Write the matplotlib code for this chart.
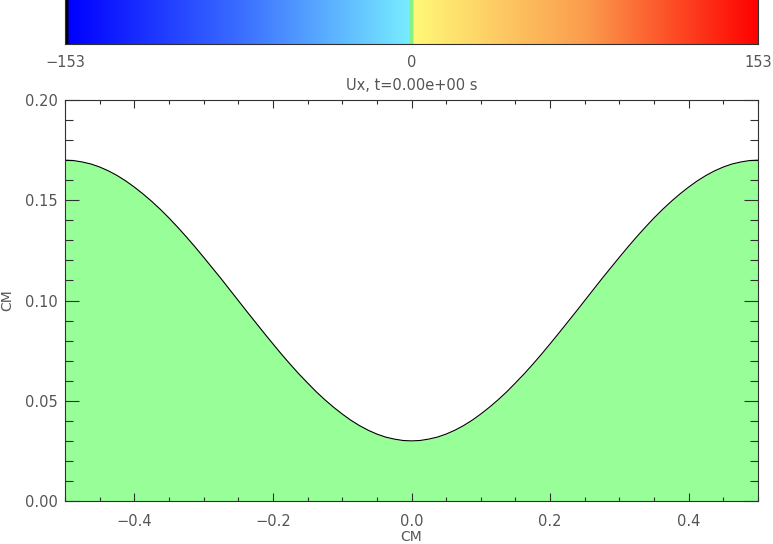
import numpy as np
import matplotlib
matplotlib.use("Agg")
import matplotlib.pyplot as plt
from matplotlib.colors import LinearSegmentedColormap
from matplotlib.ticker import MultipleLocator

# surface profile (x in CM, height in CM)
x_cm = [-0.5000, -0.4875, -0.4750, -0.4625, -0.4500, -0.4375, -0.4250, -0.4125,
        -0.4000, -0.3875, -0.3750, -0.3625, -0.3500, -0.3375, -0.3250, -0.3125,
        -0.3000, -0.2875, -0.2750, -0.2625, -0.2500, -0.2375, -0.2250, -0.2125,
        -0.2000, -0.1875, -0.1750, -0.1625, -0.1500, -0.1375, -0.1250, -0.1125,
        -0.1000, -0.0875, -0.0750, -0.0625, -0.0500, -0.0375, -0.0250, -0.0125,
        0.0000, 0.0125, 0.0250, 0.0375, 0.0500, 0.0625, 0.0750, 0.0875,
        0.1000, 0.1125, 0.1250, 0.1375, 0.1500, 0.1625, 0.1750, 0.1875,
        0.2000, 0.2125, 0.2250, 0.2375, 0.2500, 0.2625, 0.2750, 0.2875,
        0.3000, 0.3125, 0.3250, 0.3375, 0.3500, 0.3625, 0.3750, 0.3875,
        0.4000, 0.4125, 0.4250, 0.4375, 0.4500, 0.4625, 0.4750, 0.4875,
        0.5000]
height_cm = [0.1700, 0.1698, 0.1691, 0.1681, 0.1666, 0.1647, 0.1624, 0.1597,
             0.1566, 0.1532, 0.1495, 0.1455, 0.1412, 0.1366, 0.1318, 0.1268,
             0.1216, 0.1163, 0.1110, 0.1055, 0.1000, 0.0945, 0.0891, 0.0837,
             0.0784, 0.0732, 0.0682, 0.0634, 0.0589, 0.0545, 0.0505, 0.0468,
             0.0434, 0.0403, 0.0376, 0.0353, 0.0334, 0.0319, 0.0309, 0.0302,
             0.0300, 0.0302, 0.0309, 0.0319, 0.0334, 0.0353, 0.0376, 0.0403,
             0.0434, 0.0468, 0.0505, 0.0545, 0.0589, 0.0634, 0.0682, 0.0732,
             0.0784, 0.0837, 0.0891, 0.0945, 0.1000, 0.1055, 0.1110, 0.1163,
             0.1216, 0.1268, 0.1318, 0.1366, 0.1412, 0.1455, 0.1495, 0.1532,
             0.1566, 0.1597, 0.1624, 0.1647, 0.1666, 0.1681, 0.1691, 0.1698,
             0.1700]

cbar_min, cbar_max = -153, 153
cbar_ticks = [-153, 0, 153]
title = "Ux, t=0.00e+00 s"

TXT = "#555555"
EDGE = "#303030"

cmap = LinearSegmentedColormap.from_list("ux", [
    (0.000, "#000000"), (0.004, "#000000"), (0.005, "#0000ff"),
    (0.250, "#3a6cff"), (0.497, "#78ecff"),
    (0.497, "#88f088"), (0.503, "#88f088"),
    (0.503, "#fff878"), (0.750, "#fb9d4e"), (1.000, "#ff0000"),
], N=1024)

fig = plt.figure(figsize=(7.73, 5.44), dpi=100)

# colour bar on top
cax = fig.add_axes([0.0841, 0.919, 0.8965, 0.083])
grad = np.linspace(cbar_min, cbar_max, 1024)[None, :]
cax.imshow(grad, cmap=cmap, aspect="auto",
           extent=[cbar_min, cbar_max, 0, 1], vmin=cbar_min, vmax=cbar_max)
cax.set_xlim(cbar_min, cbar_max)
cax.set_yticks([])
cax.set_xticks(cbar_ticks)
cax.set_xticklabels(["\u2212153", "0", "153"])
cax.tick_params(axis="x", length=0, pad=8, labelsize=10.5, labelcolor=TXT)
for s in cax.spines.values():
    s.set_color(EDGE)
    s.set_linewidth(0.8)

# main axes
ax = fig.add_axes([0.0841, 0.079, 0.8965, 0.7371])
ax.fill_between(x_cm, height_cm, 0, color="#98ff98", linewidth=0)
ax.plot(x_cm, height_cm, color="black", linewidth=0.8)
ax.set_xlim(-0.5, 0.5)
ax.set_ylim(0.0, 0.2)

ax.xaxis.set_major_locator(MultipleLocator(0.2))
ax.xaxis.set_minor_locator(MultipleLocator(0.05))
ax.yaxis.set_major_locator(MultipleLocator(0.05))
ax.yaxis.set_minor_locator(MultipleLocator(0.01))
ax.xaxis.set_major_formatter(plt.FuncFormatter(lambda v, p: f"{v:.1f}".replace("-", "\u2212")))
ax.yaxis.set_major_formatter(plt.FuncFormatter(lambda v, p: f"{v:.2f}"))

ax.tick_params(axis="x", which="major", direction="in", top=True, length=6,
               width=0.8, color=EDGE, pad=9, labelsize=10.5, labelcolor=TXT)
ax.tick_params(axis="x", which="minor", direction="in", top=True, length=3,
               width=0.8, color=EDGE)
ax.tick_params(axis="y", which="major", direction="in", right=True, length=10,
               width=0.8, color=EDGE, pad=5, labelsize=10.5, labelcolor=TXT)
ax.tick_params(axis="y", which="minor", direction="in", right=True, length=5.5,
               width=0.8, color=EDGE)
for s in ax.spines.values():
    s.set_color(EDGE)
    s.set_linewidth(0.8)

ax.set_title(title, fontsize=10.5, color=TXT, pad=7)
ax.set_xlabel("CM", fontsize=10, color=TXT, labelpad=1)
ax.set_ylabel("CM", fontsize=10, color=TXT, labelpad=8)

fig.savefig("out.png", dpi=100)
plt.close(fig)
